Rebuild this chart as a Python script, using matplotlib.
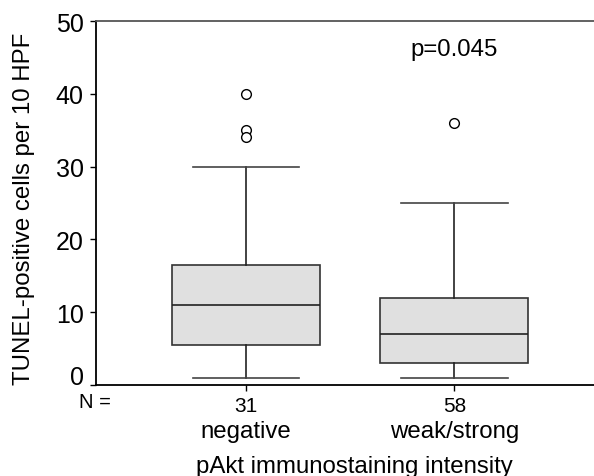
import matplotlib
matplotlib.use("Agg")
import matplotlib.pyplot as plt
import matplotlib.transforms as mtransforms

plt.rcParams['font.family'] = ['Liberation Sans', 'DejaVu Sans']

groups = ['negative', 'weak/strong']
n_counts = [31, 58]
medians = [11, 7]
q1 = [5.5, 3]
q3 = [16.5, 12]
whis_lo = [1, 1]
whis_hi = [30, 25]
outliers = [[40, 35, 34], [36]]
p_text = 'p=0.045'

stats = []
for i in range(len(groups)):
    stats.append(dict(med=medians[i], q1=q1[i], q3=q3[i],
                      whislo=whis_lo[i], whishi=whis_hi[i],
                      fliers=outliers[i], label=str(n_counts[i])))

fig = plt.figure(figsize=(5.94, 4.77), dpi=100)
ax = fig.add_axes([96/594, 1-386/477, 1-96/594, (386-22)/477])

ax.bxp(stats, positions=[1, 2], widths=0.71, patch_artist=True,
       capwidths=0.51,
       boxprops=dict(facecolor='#e0e0e0', edgecolor='#333333', linewidth=1.2),
       medianprops=dict(color='#222222', linewidth=1.2),
       whiskerprops=dict(color='#222222', linewidth=1.2),
       capprops=dict(color='#444444', linewidth=1.2),
       flierprops=dict(marker='o', markerfacecolor='white',
                       markeredgecolor='black', markersize=7, markeredgewidth=1))

ax.set_xlim(0.28, 2.67)
ax.set_ylim(0, 50)
ax.set_yticks([0, 10, 20, 30, 40, 50])
ax.tick_params(axis='y', labelsize=18, length=4, width=1, pad=5)
ax.tick_params(axis='x', labelsize=15, length=4, width=1, pad=4)

# the zero label sits a little above its tick
fig.canvas.draw()
zero_lab = ax.get_yticklabels()[0]
zero_lab.set_transform(zero_lab.get_transform() +
                       mtransforms.ScaledTranslation(0, 0.1, fig.dpi_scale_trans))

ax.spines['right'].set_visible(False)
ax.spines['top'].set_color('#555555')
for s in ['left', 'bottom', 'top']:
    ax.spines[s].set_linewidth(1.3)

ax.text(2, 46.2, p_text, ha='center', va='center', fontsize=17.3)

fig.text(95/594, 1-403/477, 'N =', ha='center', va='center', fontsize=14.5)
for i, g in enumerate(groups):
    xd = ax.transData.transform((i+1, 0))[0] / fig.bbox.width
    fig.text(xd, 1-432/477, g, ha='center', va='center', fontsize=17.3)
fig.text((196+513)/2/594, 1-467/477, 'pAkt immunostaining intensity',
         ha='center', va='center', fontsize=17.3)
fig.text(24/594, 1-209/477, 'TUNEL-positive cells per 10 HPF',
         rotation=90, ha='center', va='center', fontsize=17.3)

fig.savefig('out.png', dpi=100)
